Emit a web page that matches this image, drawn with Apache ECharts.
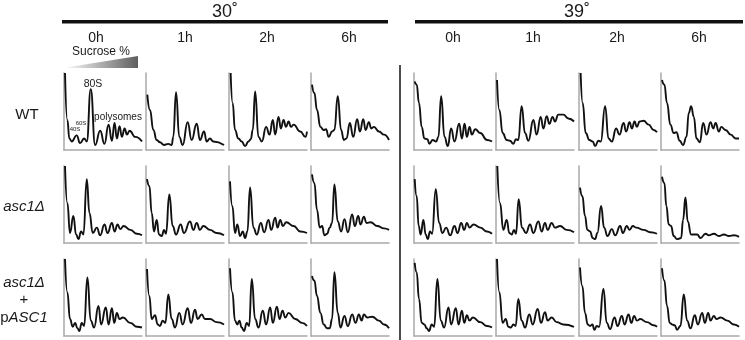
<!DOCTYPE html>
<html>
<head>
<meta charset="utf-8">
<script src="https://cdn.jsdelivr.net/npm/echarts@6/dist/echarts.min.js"></script>
<style>
  html, body { margin: 0; padding: 0; background: #fff; }
  #chart { width: 745px; height: 340px; }
</style>
</head>
<body>
<div id="chart"></div>
<script>
const TEMPS = ['30˚', '39˚']
const TIMES = ['0h', '1h', '2h', '6h']

// profiles: [position along gradient %, absorbance %]
const wt30_0h = [[1.3,100],[4.3,39],[6.9,15],[9.9,11],[16.3,19],[20.6,9],[25.8,15],[29.2,11],[34.3,79],[39.9,6.5],[46.4,25],[51.9,8],[57.1,33],[61.4,12],[64.8,35],[67.8,15],[71.2,31],[74.2,17],[77.7,28],[80.7,20],[84.1,25],[91.4,17],[100,11]]
const wt30_1h = [[1.7,72],[5.1,52],[9.4,26],[13.7,13],[17.9,10],[23.1,6.5],[28.6,8],[32.9,6.5],[35,17],[38.5,75],[42.7,17],[47,6.5],[53.4,36],[58.5,13],[65,34],[69.2,13],[74.4,24],[77.8,11],[82,15],[86.3,11],[100,6.5]]
const wt30_2h = [[2.1,100],[4.7,61],[7.7,26],[12,15],[16.3,11],[20.6,5],[24.9,11],[27.9,14],[30.5,26],[33.5,76],[37.8,17],[42.1,11],[47.6,30],[51.9,20],[56.2,39],[59.2,20],[63.5,43],[66.5,28],[70,39],[73,30],[76.4,37],[79.4,30],[82.8,33],[91.4,24],[97.9,17],[100,24]]
const wt30_6h = [[1.3,85],[4.3,74],[7.7,52],[12,30],[16.3,26],[19.3,27],[22.7,17],[27,24],[30,26],[34.3,70],[38.6,26],[42.1,13],[45.5,15],[49.8,35],[54.1,17],[59.2,40],[62.7,24],[67,40],[70,26],[74.2,36],[77.3,28],[80.7,30],[87.1,24],[93.6,20],[100,13]]
const wt39_0h = [[0.9,89],[3.4,85],[6.4,61],[9.9,30],[13.3,15],[17.2,14],[19.7,8],[24,13],[28.3,11],[31.3,17],[34.8,70],[39.1,17],[43.3,5],[47.6,28],[51.9,11],[57.9,34],[61.4,15],[64.8,34],[67.8,17],[71.2,30],[74.2,20],[78.5,27],[85,22],[93.6,13],[100,11]]
const wt39_1h = [[1.3,91],[4.3,52],[8.5,22],[13.7,13],[17.9,12],[22.2,8],[25.6,14],[28.6,13],[32.9,57],[37.2,22],[41.5,12],[47.9,39],[52.1,20],[57.3,43],[60.7,28],[65,44],[68.4,34],[72.6,43],[75.6,37],[79.9,46],[86.3,46],[92.7,41],[100,37]]
const wt39_2h = [[2.1,100],[4.7,61],[8.6,22],[13.3,13],[17.6,11],[20.6,5],[24.9,12],[27.9,11],[33.5,57],[37.8,15],[42.1,11],[47.6,28],[51.9,20],[57.1,35],[60.5,24],[64.8,36],[67.8,28],[71.2,37],[74.2,30],[77.7,37],[82.8,38],[89.3,33],[95.7,26],[100,23]]
const wt39_6h = [[1.3,91],[4.3,85],[7.7,61],[12,33],[16.3,22],[19.7,23],[24,12],[28.3,6.5],[32.6,17],[35.6,48],[38.6,57],[42.1,43],[45.5,15],[49.8,10],[54.1,35],[58.4,20],[63.5,36],[67,28],[70,35],[74.2,24],[77.3,30],[82.8,26],[89.3,20],[95.7,15],[100,15]]

const asc30_0h = [[1.3,100],[4.3,52],[7.7,13],[12,35],[15.5,11],[18.5,5],[21.9,15],[24.9,11],[29.2,83],[32.6,39],[36.9,13],[42.1,20],[46.4,10],[51.9,24],[55.8,13],[61.4,26],[64.8,15],[68.7,24],[72.1,18],[76.4,22],[85,17],[93.6,12],[100,10]]
const asc30_1h = [[1.3,83],[4.3,74],[7.3,39],[10.3,15],[13.7,30],[16.7,11],[20.1,9],[23.1,17],[25.6,12],[29.9,63],[34.2,22],[38.5,11],[44.4,24],[48.7,13],[56.4,28],[60.7,17],[65,26],[69.2,17],[73.5,22],[82.1,17],[90.6,13],[100,10]]
const asc30_2h = [[1.3,80],[4.3,48],[7.7,13],[10.7,24],[14.2,9],[17.6,15],[20.6,6.5],[23.6,15],[27,72],[31.3,20],[35.6,11],[40.8,26],[45.1,14],[50.6,30],[54.1,17],[59.2,33],[62.2,20],[65.7,30],[69.1,22],[73.4,27],[82.8,22],[91.4,15],[100,13]]
const asc30_6h = [[1.3,89],[4.3,78],[7.7,43],[11.2,20],[14.2,22],[17.2,10],[20.6,12],[24,20],[27,26],[30,76],[34.3,28],[38.6,15],[42.9,31],[47.2,14],[52.8,37],[56.2,22],[60.5,35],[63.5,24],[67.8,34],[71.2,26],[76.4,27],[85,22],[93.6,19],[100,17]]
const asc39_0h = [[0.9,83],[3.4,61],[6,22],[8.6,11],[12,30],[15,11],[17.6,5],[20.6,15],[23.2,12],[27.9,70],[32.2,26],[36.5,13],[41.2,20],[46.4,10],[51.9,22],[55.8,13],[60.5,26],[64.4,17],[67.8,26],[71.2,20],[76.4,24],[85,20],[93.6,15],[100,12]]
const asc39_1h = [[1.7,100],[5.1,52],[9.4,17],[13.7,30],[17.1,13],[20.1,11],[23.1,17],[25.6,12],[29.1,57],[33.3,20],[38.5,13],[43.6,24],[47.9,13],[54.3,28],[58.5,15],[62.8,26],[66.2,17],[71.4,26],[75.6,20],[82.1,22],[90.6,17],[100,14]]
const asc39_2h = [[1.3,72],[4.3,61],[7.7,35],[10.7,17],[14.2,15],[17.6,6.5],[20.6,5],[23.6,13],[28.3,48],[32.2,20],[36.5,9],[42.1,18],[46.4,10],[52.8,22],[56.2,13],[61.4,22],[64.8,17],[69.1,22],[73.4,20],[82.8,17],[91.4,14],[100,12]]
const asc39_6h = [[1.3,86],[4.3,78],[6.9,48],[9.9,24],[12.9,22],[16.3,9],[20.6,5],[25.8,6.5],[28.3,30],[31.3,59],[34.3,28],[38.6,11],[46.4,11],[50.6,6.5],[57.1,12],[61.4,10],[67.8,12],[74.2,9],[80.7,11],[87.1,9],[93.6,10],[100,8]]

const res30_0h = [[1.3,100],[4.3,57],[7.7,22],[11.2,12],[14.2,17],[17.2,10],[19.7,6.5],[22.7,17],[25.8,13],[30,76],[34.3,20],[38.6,11],[44.2,39],[47.6,15],[53.6,37],[57.1,15],[61.4,36],[64.4,17],[67.8,30],[71.2,22],[75.5,24],[85,17],[93.6,12],[100,11]]
const res30_1h = [[1.3,87],[4.3,52],[7.3,22],[11.5,27],[15,15],[17.9,13],[21.4,20],[24.8,17],[28.6,54],[32.9,22],[37.2,11],[42.7,30],[47,15],[53.4,36],[57.7,17],[62.8,34],[66.2,22],[71.4,28],[75.6,22],[82.1,22],[90.6,18],[100,15]]
const res30_2h = [[1.3,88],[4.3,57],[7.7,20],[10.7,15],[13.3,20],[16.3,11],[19.3,6.5],[22.7,17],[25.8,13],[29.2,74],[33.5,22],[37.8,11],[43.3,33],[47.6,15],[52.8,37],[56.2,17],[61.4,38],[64.8,22],[68.7,33],[72.1,24],[76.4,30],[85,22],[93.6,17],[100,13]]
const res30_6h = [[1.3,78],[4.3,72],[7.7,52],[12,30],[16.3,15],[20.6,10],[24,10],[27,22],[30,83],[34.3,30],[37.8,11],[42.9,26],[47.2,13],[52.8,28],[57.1,17],[61.4,28],[64.8,20],[67.8,28],[72.1,24],[78.5,25],[87.1,20],[93.6,15],[100,10]]
const res39_0h = [[0.9,95],[3.4,83],[6.4,48],[9.9,17],[13.3,15],[16.3,10],[19.3,6.5],[22.7,15],[25.8,12],[30,74],[34.3,20],[38.6,11],[44.2,37],[47.6,15],[53.6,36],[57.1,15],[61.4,33],[64.4,17],[67.8,27],[71.2,20],[75.5,24],[85,18],[93.6,13],[100,11]]
const res39_1h = [[1.3,100],[4.3,57],[8.5,17],[12.4,22],[15.8,12],[19.2,11],[22.2,15],[25.2,13],[28.6,48],[32.9,20],[37.2,11],[42.7,28],[47,15],[53.4,35],[57.7,17],[62.8,31],[66.2,20],[71.4,24],[77.8,18],[86.3,15],[100,12]]
const res39_2h = [[1.3,89],[4.3,65],[7.7,30],[11.2,15],[14.2,13],[17.2,15],[19.7,8],[22.7,13],[25.8,12],[31.3,61],[35.6,17],[39.9,9],[45.5,24],[49.4,13],[54.9,26],[58.4,15],[63.5,28],[67,17],[70.8,26],[74.2,20],[78.5,22],[87.1,18],[95.7,14],[100,12]]
const res39_6h = [[1.3,88],[4.3,72],[7.7,39],[11.2,17],[14.2,15],[17.6,14],[20.6,8],[24.9,13],[29.2,54],[33.5,20],[37.8,10],[43.3,27],[47.2,15],[52.8,30],[56.2,17],[60.5,30],[63.5,20],[67.8,26],[71.2,22],[76.4,24],[85,20],[93.6,15],[100,12]]

const PROFILES = [
  [wt30_0h, wt30_1h, wt30_2h, wt30_6h, wt39_0h, wt39_1h, wt39_2h, wt39_6h],
  [asc30_0h, asc30_1h, asc30_2h, asc30_6h, asc39_0h, asc39_1h, asc39_2h, asc39_6h],
  [res30_0h, res30_1h, res30_2h, res30_6h, res39_0h, res39_1h, res39_2h, res39_6h]
]

const colLeft = [64, 146, 229, 311, 414, 496, 579, 661]
const rowTop = [73, 166, 259]
const colCenter = [96, 185, 267, 349, 453, 533, 617, 699]

const chart = echarts.init(document.getElementById('chart'), null, { renderer: 'canvas' })

const grid = []
const xAxis = []
const yAxis = []
const series = []
const axisStyle = {
  axisLine: { show: true, lineStyle: { color: '#a9a9a9', width: 1.5 } },
  axisTick: { show: false },
  axisLabel: { show: false },
  splitLine: { show: false }
}

PROFILES.forEach((row, r) => {
  row.forEach((data, c) => {
    const i = grid.length
    grid.push({ left: colLeft[c], top: rowTop[r], width: 78, height: 77 })
    xAxis.push({ gridIndex: i, type: 'value', min: 0, max: 100, ...axisStyle })
    yAxis.push({ gridIndex: i, type: 'value', min: 0, max: 100, ...axisStyle })
    series.push({
      type: 'line',
      xAxisIndex: i,
      yAxisIndex: i,
      data,
      smooth: 0.5,
      smoothMonotone: 'x',
      symbol: 'none',
      silent: true,
      lineStyle: { color: '#111', width: 1.9 }
    })
  })
})

const FONT = '"Liberation Sans", Arial, sans-serif'
const txt = (text, x, y, size, extra) => ({
  type: 'text',
  x, y,
  style: { text, fontSize: size, fontFamily: FONT, fill: '#1a1a1a', align: 'center', verticalAlign: 'middle', ...extra }
})

const graphic = [
  txt(TEMPS[0], 225, 12, 18),
  { type: 'rect', shape: { x: 62, y: 20, width: 326, height: 3.5 }, style: { fill: '#111' } },
  txt(TEMPS[1], 577, 12, 18),
  { type: 'rect', shape: { x: 415, y: 20, width: 328, height: 3.5 }, style: { fill: '#111' } },
  { type: 'line', shape: { x1: 400, y1: 65, x2: 400, y2: 340 }, style: { stroke: '#111', lineWidth: 1.5 } },
  txt('Sucrose %', 101, 52, 12),
  {
    type: 'polygon',
    shape: { points: [[63, 68], [138, 56], [138, 68]] },
    style: {
      fill: new echarts.graphic.LinearGradient(0, 0, 1, 0, [
        { offset: 0, color: '#ffffff' },
        { offset: 1, color: '#5e5e5e' }
      ])
    }
  },
  txt('WT', 27, 115, 15),
  txt('asc1Δ', 24, 207, 15, { fontStyle: 'italic' }),
  txt('asc1Δ', 24, 283, 15, { fontStyle: 'italic' }),
  txt('+', 24, 300, 15),
  {
    type: 'text', x: 24, y: 318,
    style: {
      text: '{n|p}{i|ASC1}', align: 'center', verticalAlign: 'middle', fontFamily: FONT,
      rich: {
        n: { fontSize: 15, fontFamily: FONT, fill: '#1a1a1a' },
        i: { fontSize: 15, fontFamily: FONT, fill: '#1a1a1a', fontStyle: 'italic' }
      }
    }
  },
  txt('80S', 93, 84, 10.5),
  txt('polysomes', 118, 117, 10),
  txt('60S', 81, 123, 6),
  txt('40S', 75, 129, 6)
]
TIMES.concat(TIMES).forEach((t, c) => graphic.push(txt(t, colCenter[c], 38, 14)))

chart.setOption({
  animation: false,
  grid,
  xAxis,
  yAxis,
  series,
  graphic
})
</script>
</body>
</html>
